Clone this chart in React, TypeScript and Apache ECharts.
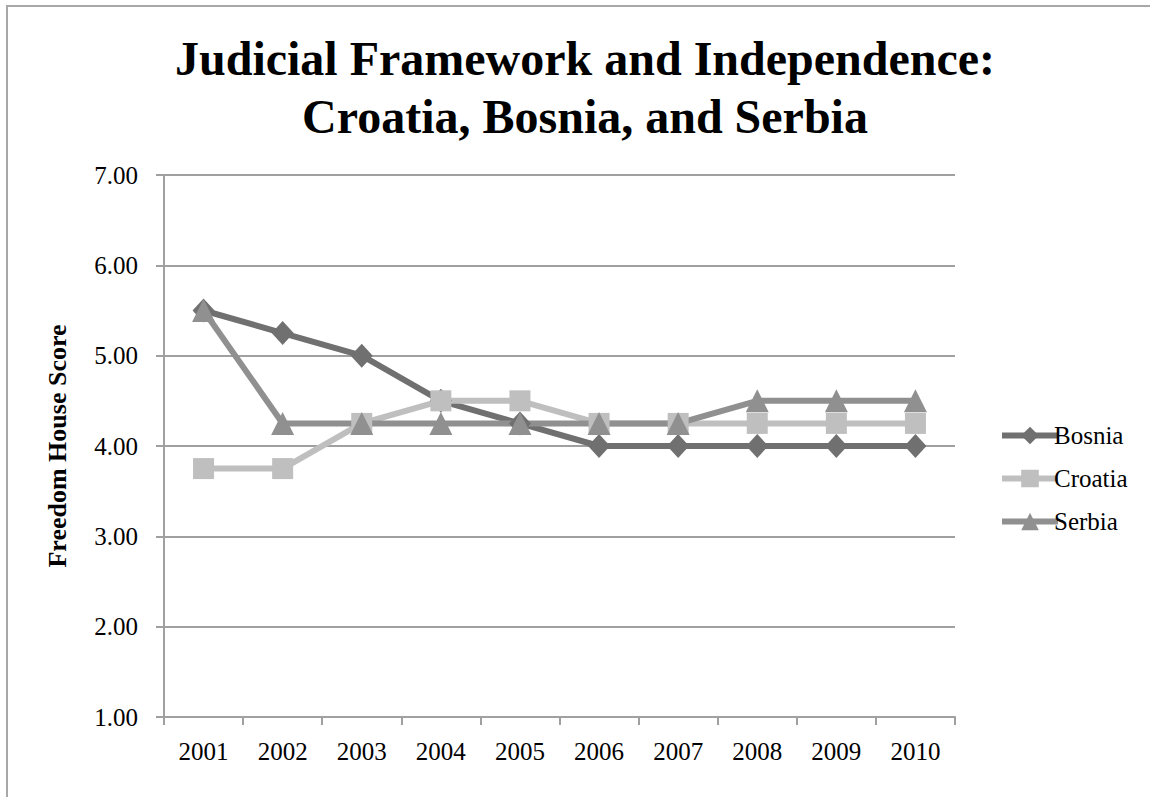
import React, { useEffect, useRef } from "react";
import * as echarts from "echarts";

const years = ["2001", "2002", "2003", "2004", "2005", "2006", "2007", "2008", "2009", "2010"];
const bosnia = [5.5, 5.25, 5.0, 4.5, 4.25, 4.0, 4.0, 4.0, 4.0, 4.0];
const croatia = [3.75, 3.75, 4.25, 4.5, 4.5, 4.25, 4.25, 4.25, 4.25, 4.25];
const serbia = [5.5, 4.25, 4.25, 4.25, 4.25, 4.25, 4.25, 4.5, 4.5, 4.5];

const titleLines = ["Judicial Framework and Independence:", "Croatia, Bosnia, and Serbia"];
const yAxisName = "Freedom House Score";

const FONT = "'Liberation Serif', 'Times New Roman', serif";

export default function App() {
  const ref = useRef<HTMLDivElement>(null);
  useEffect(() => {
    if (!ref.current) return;
    const chart = echarts.init(ref.current, null, { renderer: "svg" });
    const mkSeries = (name: string, data: number[], color: string, symbol: string, size: number | number[]) => ({
      name,
      type: "line",
      data,
      symbol,
      symbolSize: size,
      showSymbol: true,
      lineStyle: { color, width: 6 },
      itemStyle: { color, borderWidth: 0 },
      emphasis: { disabled: true },
    });
    chart.setOption({
      animation: false,
      backgroundColor: "#ffffff",
      title: {
        text: titleLines.join("\n"),
        left: 580,
        top: 24,
        textAlign: "center",
        textStyle: {
          fontFamily: FONT,
          fontWeight: "bold",
          fontSize: 48,
          lineHeight: 58,
          color: "#000",
        },
      },
      graphic: [
        {
          type: "polyline",
          shape: { points: [[7, 800], [7, 6], [1152, 6]] },
          style: { stroke: "#a8a8a8", lineWidth: 2, fill: "none" },
          silent: true,
        },
      ],
      legend: {
        orient: "vertical",
        left: 994,
        top: 418,
        itemWidth: 56,
        itemHeight: 22,
        itemGap: 18,
        lineStyle: { width: 6 },
        textStyle: { fontFamily: FONT, fontSize: 25, color: "#000", padding: [0, 0, 0, -9] },
        data: ["Bosnia", "Croatia", "Serbia"],
      },
      grid: { left: 164, right: 195, top: 175, bottom: 80, containLabel: false },
      xAxis: {
        type: "category",
        data: years,
        boundaryGap: true,
        axisLine: { lineStyle: { color: "#a0a0a0", width: 2 } },
        axisTick: { show: true, length: 8, lineStyle: { color: "#a0a0a0", width: 2 } },
        axisLabel: { fontFamily: FONT, fontSize: 25, color: "#000", margin: 22 },
      },
      yAxis: {
        type: "value",
        min: 1,
        max: 7,
        interval: 1,
        name: yAxisName,
        nameLocation: "middle",
        nameGap: 94,
        nameRotate: 90,
        nameTextStyle: { fontFamily: FONT, fontSize: 26, fontWeight: "bold", color: "#000" },
        axisLine: { show: true, lineStyle: { color: "#a0a0a0", width: 2 } },
        axisTick: { show: true, inside: false, length: 8, lineStyle: { color: "#a0a0a0", width: 2 } },
        splitLine: { show: true, lineStyle: { color: "#a0a0a0", width: 2 } },
        axisLabel: {
          fontFamily: FONT,
          fontSize: 25,
          color: "#000",
          margin: 26,
          formatter: (v: number) => v.toFixed(2),
        },
      },
      series: [
        mkSeries("Bosnia", bosnia, "#707070", "diamond", [22, 24]),
        mkSeries("Croatia", croatia, "#bfbfbf", "rect", 21),
        mkSeries("Serbia", serbia, "#909090", "triangle", 23),
      ],
    });
    return () => chart.dispose();
  }, []);
  return (
    <div
      ref={ref}
      style={{ position: "fixed", left: 0, top: 0, width: 1150, height: 797, background: "#fff" }}
    />
  );
}
